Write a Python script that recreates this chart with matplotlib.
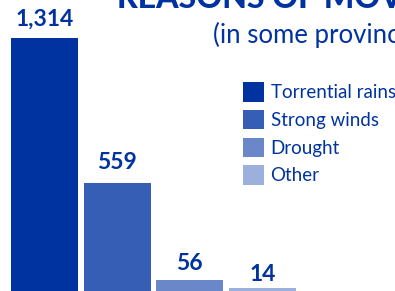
import matplotlib
matplotlib.use("Agg")
import matplotlib.pyplot as plt
from matplotlib.patches import Patch

# data
categories = ["Torrential rains", "Strong winds", "Drought", "Other"]
values = [1314, 559, 56, 14]
value_labels = ["1,314", "559", "56", "14"]

colors = ["#0033a0", "#365eb5", "#6a88c9", "#9bb0dc"]
text_blue = "#0033a0"
label_pad = [12, 14, 10, 7]  # px between bar top and label baseline

plt.rcParams["font.family"] = ["Lato", "DejaVu Sans"]

W, H = 395, 291
fig = plt.figure(figsize=(W / 100, H / 100), dpi=100)
ax = fig.add_axes([0, 0, 1, 1])

x = list(range(len(values)))
ax.bar(x, values, width=0.922, color=colors)
ax.set_xlim(-0.612, 4.823)
ax.set_ylim(0, 1512)
ax.axis("off")

for xi, v, lab, pad in zip(x, values, value_labels, label_pad):
    ax.annotate(lab, (xi, v), xytext=(0, pad * 0.72), textcoords="offset points",
                ha="center", va="baseline", fontsize=16.5, fontweight="bold",
                color=text_blue)


def fx(px):
    return px / W


def fy(py):
    return 1 - py / H


fig.text(fx(117), fy(8), "REASONS OF MOVEMENT", fontsize=23, fontweight="black",
         color=text_blue, ha="left", va="baseline")
fig.text(fx(213), fy(43), "(in some provinces)", fontsize=18.5,
         color=text_blue, ha="left", va="baseline")

handles = [Patch(facecolor=c, edgecolor="none") for c in colors]
leg = fig.legend(handles, categories, loc="upper left",
                 bbox_to_anchor=(fx(234), fy(73)), frameon=False,
                 fontsize=13.5, handlelength=1.1, handleheight=1.2,
                 handletextpad=0.35, labelspacing=0.45, borderpad=0)
for t in leg.get_texts():
    t.set_color(text_blue)

fig.savefig("out.png", dpi=100)
